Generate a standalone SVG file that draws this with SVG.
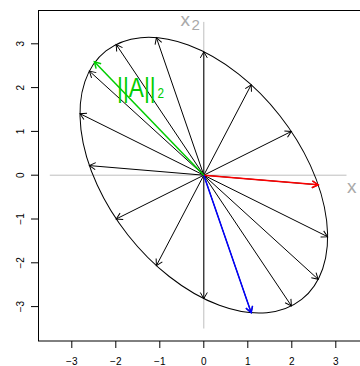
<svg xmlns="http://www.w3.org/2000/svg" width="360" height="366" viewBox="0 0 360 366">
<style>
.ax{stroke:#000;stroke-width:1;fill:none}
.tl{font-family:"Liberation Sans",Arial,sans-serif;font-size:10px;fill:#000}
.gl{stroke:#bebebe;stroke-width:1}
.arr{stroke:#000;stroke-width:1;fill:none;marker-end:url(#hk)}
.lab{font-family:"Liberation Sans",Arial,sans-serif;fill:#a9a9a9}
</style>
<defs>
<marker id="hk" viewBox="-8 -5 10 10" markerWidth="10" markerHeight="10" refX="0" refY="0" orient="auto" markerUnits="userSpaceOnUse"><path d="M-6.1,-3.5 L0,0 L-6.1,3.5" fill="none" stroke="#000" stroke-width="1"/></marker>
<marker id="hr" viewBox="-8 -5 10 10" markerWidth="10" markerHeight="10" refX="0" refY="0" orient="auto" markerUnits="userSpaceOnUse"><path d="M-6.1,-3.5 L0,0 L-6.1,3.5" fill="none" stroke="#ff0000" stroke-width="1.5"/></marker>
<marker id="hb" viewBox="-8 -5 10 10" markerWidth="10" markerHeight="10" refX="0" refY="0" orient="auto" markerUnits="userSpaceOnUse"><path d="M-6.1,-3.5 L0,0 L-6.1,3.5" fill="none" stroke="#0000ff" stroke-width="1.5"/></marker>
<marker id="hg" viewBox="-8 -5 10 10" markerWidth="10" markerHeight="10" refX="0" refY="0" orient="auto" markerUnits="userSpaceOnUse"><path d="M-6.1,-3.5 L0,0 L-6.1,3.5" fill="none" stroke="#00cd00" stroke-width="1.5"/></marker>
</defs>
<rect width="360" height="366" fill="#fff"/>
<g id="frame">
<rect x="38.5" y="10.5" width="331" height="330.5" class="ax"/>
<path class="ax" d="M71.8,341V348M115.8,341V348M159.8,341V348M203.8,341V348M247.8,341V348M291.8,341V348M335.8,341V348"/>
<path class="ax" d="M31,43.8H38.5M31,87.6H38.5M31,131.4H38.5M31,175.2H38.5M31,219H38.5M31,262.8H38.5M31,306.6H38.5"/>
<g class="tl" text-anchor="middle">
<text x="71.8" y="365.3">−3</text><text x="115.8" y="365.3">−2</text><text x="159.8" y="365.3">−1</text><text x="203.8" y="365.3">0</text><text x="247.8" y="365.3">1</text><text x="291.8" y="365.3">2</text><text x="335.8" y="365.3">3</text>
<text transform="translate(23.5,43.8) rotate(-90)">3</text>
<text transform="translate(23.5,87.6) rotate(-90)">2</text>
<text transform="translate(23.5,131.4) rotate(-90)">1</text>
<text transform="translate(23.5,175.2) rotate(-90)">0</text>
<text transform="translate(23.5,219) rotate(-90)">−1</text>
<text transform="translate(23.5,262.8) rotate(-90)">−2</text>
<text transform="translate(23.5,306.6) rotate(-90)">−3</text>
</g>
</g>
<g id="coordinate-axes">
<line class="gl" x1="49.8" y1="175.2" x2="346.5" y2="175.2"/>
<line class="gl" x1="203.8" y1="21.9" x2="203.8" y2="328.5"/>
<text class="lab" x="347" y="192.8" font-size="19">x</text>
<text class="lab" x="180.5" y="26" font-size="19">x<tspan font-size="15" x="191.5" y="29.5">2</tspan></text>
</g>
<g id="ellipse">
<ellipse cx="203.8" cy="175.2" rx="158.14" ry="96.6" transform="rotate(51.78 203.8 175.2)" fill="none" stroke="#000" stroke-width="1"/>
</g>
<g id="connectors" transform="translate(203.8,175.2)">
<line class="arr" x1="0" y1="0" x2="114.4" y2="9.6"/>
<line class="arr" x1="0" y1="0" x2="123.8" y2="61.5"/>
<line class="arr" x1="0" y1="0" x2="114.4" y2="104.1"/>
<line class="arr" x1="0" y1="0" x2="87.6" y2="130.7"/>
<line class="arr" x1="0" y1="0" x2="47.4" y2="137.5"/>
<line class="arr" x1="0" y1="0" x2="0" y2="123.4"/>
<line class="arr" x1="0" y1="0" x2="-47.4" y2="90.4"/>
<line class="arr" x1="0" y1="0" x2="-87.6" y2="43.8"/>
<line class="arr" x1="0" y1="0" x2="-114.4" y2="-9.6"/>
<line class="arr" x1="0" y1="0" x2="-123.8" y2="-61.5"/>
<line class="arr" x1="0" y1="0" x2="-114.4" y2="-104.1"/>
<line class="arr" x1="0" y1="0" x2="-87.6" y2="-130.7"/>
<line class="arr" x1="0" y1="0" x2="-47.4" y2="-137.5"/>
<line class="arr" x1="0" y1="0" x2="0" y2="-123.4"/>
<line class="arr" x1="0" y1="0" x2="47.4" y2="-90.4"/>
<line class="arr" x1="0" y1="0" x2="87.6" y2="-43.8"/>
<line x1="0" y1="0" x2="114.4" y2="9.6" stroke="#ff0000" stroke-width="1.5" marker-end="url(#hr)"/>
<line x1="0" y1="0" x2="47.4" y2="137.5" stroke="#0000ff" stroke-width="1.5" marker-end="url(#hb)"/>
<line x1="0" y1="0" x2="-109.4" y2="-113.4" stroke="#00cd00" stroke-width="1.5" marker-end="url(#hg)"/>
</g>
<g id="norm-label">
<text transform="translate(117,97) scale(0.84,1)" font-family="'Liberation Sans',Arial,sans-serif" font-size="27" fill="#00cd00">||A||<tspan x="48.2" y="0.7" font-size="14">2</tspan></text>
</g>
</svg>
